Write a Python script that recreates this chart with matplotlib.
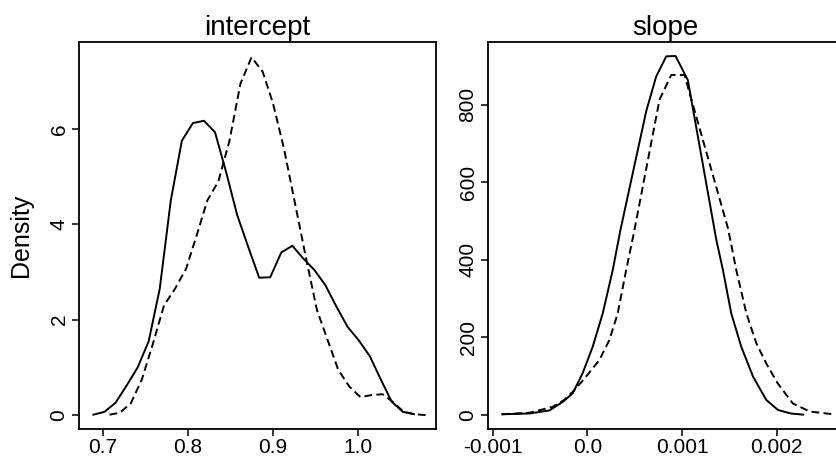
import matplotlib
matplotlib.use("Agg")
import matplotlib.pyplot as plt

# ---- data: intercept panel ----
int_solid_x = [0.689, 0.702, 0.715, 0.728, 0.741, 0.754, 0.767, 0.780, 0.793, 0.806,
               0.819, 0.832, 0.845, 0.858, 0.871, 0.884, 0.897, 0.910, 0.923, 0.936,
               0.949, 0.962, 0.975, 0.988, 1.001, 1.014, 1.027, 1.040, 1.053, 1.066]
int_solid_y = [0.01, 0.07, 0.26, 0.62, 1.00, 1.55, 2.65, 4.50, 5.75, 6.12,
               6.17, 5.93, 5.10, 4.20, 3.53, 2.88, 2.89, 3.41, 3.55, 3.28,
               3.04, 2.72, 2.27, 1.85, 1.57, 1.24, 0.75, 0.28, 0.07, 0.02]
int_dash_x = [0.708, 0.720, 0.733, 0.746, 0.759, 0.772, 0.785, 0.798, 0.811, 0.823,
              0.836, 0.849, 0.862, 0.875, 0.888, 0.900, 0.913, 0.926, 0.939, 0.952,
              0.964, 0.977, 0.990, 1.003, 1.016, 1.029, 1.041, 1.054, 1.067, 1.080]
int_dash_y = [0.01, 0.05, 0.25, 0.75, 1.50, 2.30, 2.65, 3.07, 3.80, 4.50,
              4.90, 5.75, 6.95, 7.50, 7.20, 6.55, 5.60, 4.45, 3.30, 2.20,
              1.60, 0.95, 0.60, 0.38, 0.42, 0.44, 0.28, 0.07, 0.02, 0.00]

# ---- data: slope panel ----
slp_solid_x = [-0.00090, -0.00061, -0.00040, -0.00026, -0.000155, -0.00005, 0.000056,
               0.000162, 0.000268, 0.000349, 0.000621, 0.000727, 0.000833, 0.000931,
               0.001061, 0.001362, 0.001432, 0.00152, 0.001626, 0.00175, 0.00189,
               0.002014, 0.00215, 0.00228]
slp_solid_y = [2, 4, 12, 34, 56, 108, 176, 262, 374, 477, 783, 873, 925, 926,
               864, 452, 374, 262, 176, 99, 39, 13, 4, 1]
slp_dash_x = [-0.00090, -0.00061, -0.00037, -0.00025, -0.000138, -0.000014, 0.000127,
              0.000233, 0.00032, 0.00041, 0.000497, 0.000762, 0.000886, 0.001026,
              0.00108, 0.001485, 0.001573, 0.00168, 0.001785, 0.00189, 0.00201,
              0.00217, 0.00235, 0.0026]
slp_dash_y = [2, 6, 21, 38, 64, 99, 142, 194, 262, 374, 477, 813, 877, 877,
              830, 482, 374, 262, 185, 133, 82, 30, 9, 2]

titles = ["intercept", "slope"]
int_xticks = [0.7, 0.8, 0.9, 1.0]
int_xticklabels = ["0.7", "0.8", "0.9", "1.0"]
int_yticks = [0, 2, 4, 6]
slp_xticks = [-0.001, 0.0, 0.001, 0.002]
slp_xticklabels = ["-0.001", "0.0", "0.001", "0.002"]
slp_yticks = [0, 200, 400, 600, 800]

plt.rcParams['font.family'] = ['Liberation Sans', 'DejaVu Sans']

W, H = 837, 458
fig = plt.figure(figsize=(W / 100, H / 100), dpi=100)

def pos(x0, y0, x1, y1):
    return [x0 / W, 1 - y1 / H, (x1 - x0) / W, (y1 - y0) / H]

ax1 = fig.add_axes(pos(79, 42, 436, 429))
ax2 = fig.add_axes(pos(488, 42, 842, 429))

lw = 1.4
for ax in (ax1, ax2):
    for s in ax.spines.values():
        s.set_linewidth(1.3)
    ax.tick_params(direction='out', length=5, width=1.1, labelsize=15, pad=1.5)
    ax.tick_params(axis='y', pad=2.5)

ax1.plot(int_solid_x, int_solid_y, color='black', lw=lw)
ax1.plot(int_dash_x, int_dash_y, color='black', lw=lw, dashes=(4, 2.2))
ax1.set_xlim(0.672, 1.092)
ax1.set_ylim(-0.29, 7.82)
ax1.set_xticks(int_xticks)
ax1.set_xticklabels(int_xticklabels)
ax1.set_yticks(int_yticks)
ax1.set_yticklabels([str(v) for v in int_yticks], rotation=90, va='center')
ax1.set_title(titles[0], fontsize=20, pad=5)
ax1.set_ylabel("Density", fontsize=18, labelpad=12)

ax2.plot(slp_solid_x, slp_solid_y, color='black', lw=lw)
ax2.plot(slp_dash_x, slp_dash_y, color='black', lw=lw, dashes=(4, 2.2))
ax2.set_xlim(-0.00105, 0.00269)
ax2.set_ylim(-36, 962)
ax2.set_xticks(slp_xticks)
ax2.set_xticklabels(slp_xticklabels)
ax2.set_yticks(slp_yticks)
ax2.set_yticklabels([str(v) for v in slp_yticks], rotation=90, va='center')
ax2.set_title(titles[1], fontsize=20, pad=5)

fig.savefig("out.png", dpi=100)
